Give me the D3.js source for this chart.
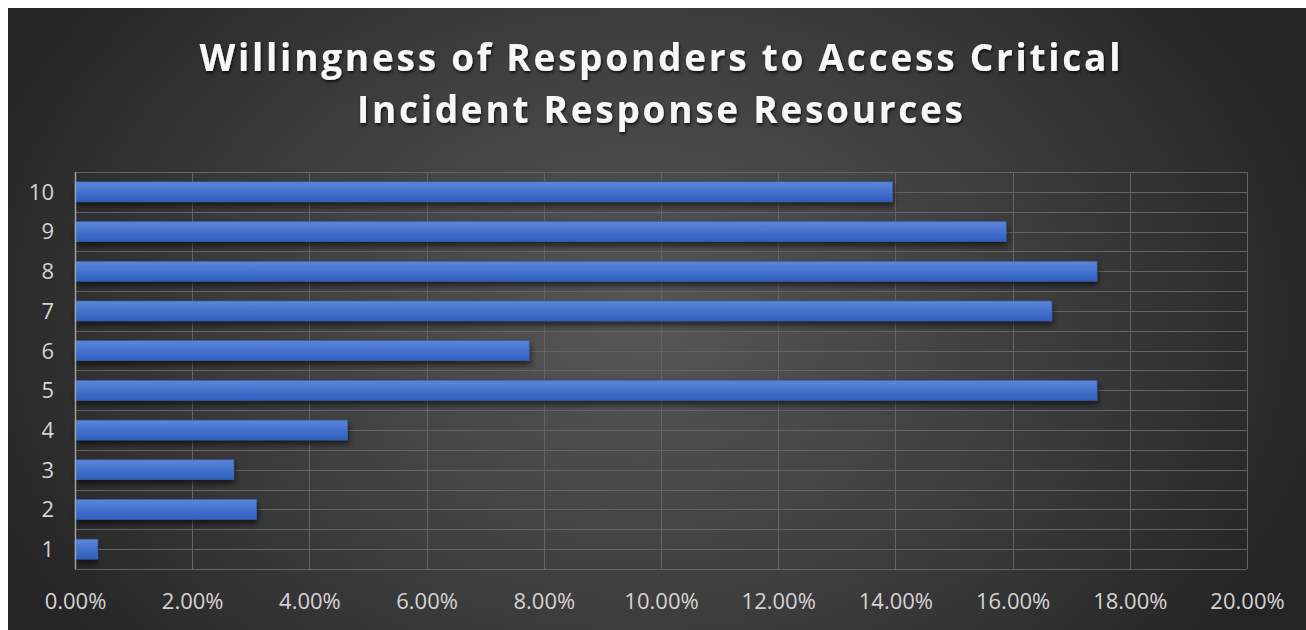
<!DOCTYPE html>
<html>
<head>
<meta charset="utf-8">
<script src="https://cdn.jsdelivr.net/npm/d3@7"></script>
<style>
  html, body { margin: 0; padding: 0; background: #ffffff; }
  svg { display: block; }
</style>
</head>
<body>
<div id="chart"></div>
<script>
// ---- data ----
const titleLines = ["Willingness of Responders to Access Critical", "Incident Response Resources"];
const categories = ["1", "2", "3", "4", "5", "6", "7", "8", "9", "10"];
const values = [0.39, 3.10, 2.71, 4.65, 17.44, 7.75, 16.67, 17.44, 15.89, 13.95]; // percent
const xTicks = [0, 2, 4, 6, 8, 10, 12, 14, 16, 18, 20];

const W = 1306, H = 630;
const margin = { left: 75, right: 1247, top: 172, bottom: 569 };

const svg = d3.select("#chart").append("svg").attr("width", W).attr("height", H);
const defs = svg.append("defs");

const bg = defs.append("radialGradient").attr("id", "bg")
  .attr("gradientUnits", "userSpaceOnUse")
  .attr("cx", 640).attr("cy", 320).attr("r", 720)
  .attr("gradientTransform", "translate(640,320) scale(1,0.75) translate(-640,-320)");
bg.append("stop").attr("offset", "0%").attr("stop-color", "#575757");
bg.append("stop").attr("offset", "55%").attr("stop-color", "#3d3d3d");
bg.append("stop").attr("offset", "100%").attr("stop-color", "#242424");

const barGrad = defs.append("linearGradient").attr("id", "barGrad")
  .attr("x1", 0).attr("y1", 0).attr("x2", 0).attr("y2", 1);
barGrad.append("stop").attr("offset", "0%").attr("stop-color", "#5c86d9");
barGrad.append("stop").attr("offset", "50%").attr("stop-color", "#4472cd");
barGrad.append("stop").attr("offset", "100%").attr("stop-color", "#2f5fbe");

const shadow = defs.append("filter").attr("id", "barShadow")
  .attr("x", "-5%").attr("y", "-50%").attr("width", "110%").attr("height", "250%");
shadow.append("feDropShadow").attr("dx", 1).attr("dy", 4).attr("stdDeviation", 3)
  .attr("flood-color", "#000").attr("flood-opacity", 0.6);

const tshadow = defs.append("filter").attr("id", "titleShadow")
  .attr("x", "-5%").attr("y", "-30%").attr("width", "110%").attr("height", "160%");
tshadow.append("feDropShadow").attr("dx", 1).attr("dy", 2).attr("stdDeviation", 1.6)
  .attr("flood-color", "#000").attr("flood-opacity", 0.75);

// background panel
svg.append("rect").attr("x", 8).attr("y", 8).attr("width", W - 8).attr("height", H - 8)
  .attr("fill", "url(#bg)");

// scales
const x = d3.scaleLinear().domain([0, 20]).range([margin.left, margin.right]);
const y = d3.scaleBand().domain(categories.slice().reverse())
  .range([margin.top, margin.bottom]).paddingInner(0.5).paddingOuter(0.25);
const step = y.step();

// horizontal gridlines: at band boundaries and band centres
const hLines = [];
categories.forEach(c => {
  const top = y(c) - y.paddingInner() * step / 2;
  hLines.push(top, top + step / 2);
});
hLines.push(margin.bottom);

const grid = svg.append("g");
grid.selectAll("line.h").data(hLines).join("line").attr("class", "h")
  .attr("x1", margin.left).attr("x2", margin.right)
  .attr("y1", d => Math.round(d) + 0.5).attr("y2", d => Math.round(d) + 0.5)
  .attr("stroke", "#646464").attr("stroke-width", 1);
grid.selectAll("line.v").data(xTicks.slice(1)).join("line").attr("class", "v")
  .attr("x1", d => Math.round(x(d)) + 0.5).attr("x2", d => Math.round(x(d)) + 0.5)
  .attr("y1", margin.top).attr("y2", margin.bottom)
  .attr("stroke", "#646464").attr("stroke-width", 1);

// bars
svg.append("g").selectAll("rect").data(categories).join("rect")
  .attr("x", margin.left)
  .attr("y", (c) => y(c))
  .attr("height", y.bandwidth())
  .attr("width", (c, i) => x(values[i]) - x(0))
  .attr("fill", "url(#barGrad)")
  .attr("stroke", "#3a63b0").attr("stroke-width", 0.6)
  .attr("filter", "url(#barShadow)");

// left axis line
svg.append("line").attr("x1", margin.left + 0.5).attr("x2", margin.left + 0.5)
  .attr("y1", margin.top).attr("y2", margin.bottom)
  .attr("stroke", "#a0a0a0").attr("stroke-width", 1.5);

// axes labels using d3 axes
const yAxis = svg.append("g").attr("transform", `translate(${margin.left - 21},0)`)
  .call(d3.axisLeft(y).tickSize(0).tickPadding(0));
yAxis.select(".domain").remove();
yAxis.selectAll("text").attr("fill", "#d4d4d4")
  .attr("font-family", "'Open Sans', sans-serif").attr("font-size", 22)
  .attr("dy", "0.36em");

const xAxis = svg.append("g").attr("transform", `translate(0,${margin.bottom})`)
  .call(d3.axisBottom(x).tickValues(xTicks).tickSize(0).tickPadding(0)
    .tickFormat(d => d3.format(".2f")(d) + "%"));
xAxis.select(".domain").remove();
xAxis.selectAll("text").attr("fill", "#d4d4d4")
  .attr("font-family", "'Open Sans', sans-serif").attr("font-size", 22)
  .attr("dy", 0).attr("y", 40);

// title
const title = svg.append("g").attr("filter", "url(#titleShadow)");
const titleLen = [921, 606];
const titleY = [71, 123];
titleLines.forEach((t, i) => {
  title.append("text").text(t)
    .attr("x", 660).attr("y", titleY[i])
    .attr("text-anchor", "middle")
    .attr("font-family", "'Open Sans', sans-serif")
    .attr("font-weight", 700).attr("font-size", 37)
    .attr("fill", "#f7f7f7")
    .attr("textLength", titleLen[i]).attr("lengthAdjust", "spacing");
});
</script>
</body>
</html>
